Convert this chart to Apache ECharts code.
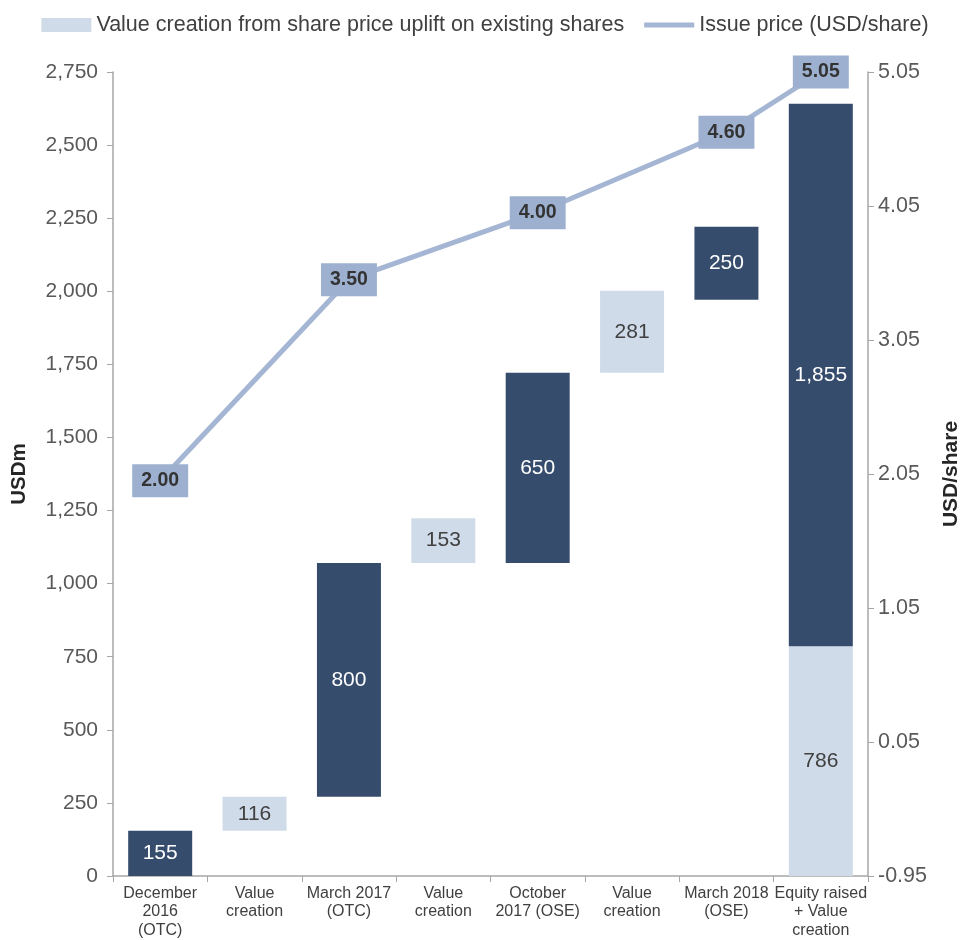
<!DOCTYPE html>
<html>
<head>
<meta charset="utf-8">
<script src="https://cdn.jsdelivr.net/npm/echarts@6/dist/echarts.min.js"></script>
<style>
html,body{margin:0;padding:0;background:#fff;}
#chart{width:970px;height:940px;}
</style>
</head>
<body>
<div id="chart"></div>
<script>
const categories = ["December\n2016\n(OTC)", "Value\ncreation", "March 2017\n(OTC)", "Value\ncreation", "October\n2017 (OSE)", "Value\ncreation", "March 2018\n(OSE)", "Equity raised\n+ Value\ncreation"];
const bases = [0, 155, 271, 1071, 1071, 1721, 1971, 0];
const valueCreation = [null, 116, null, 153, null, 281, null, 786];
const equityRaised = [155, null, 800, null, 650, null, 250, 1855];
const issuePrice = [2.00, null, 3.50, null, 4.00, null, 4.60, 5.05];
const rightTickLabels = ["-0.95", "0.05", "1.05", "2.05", "3.05", "4.05", "5.05"];

const FONT = '"Liberation Sans", Arial, sans-serif';
const fmt = v => (v == null ? '' : Number(v).toLocaleString('en-US'));
const chart = echarts.init(document.getElementById('chart'), null, {renderer: 'canvas'});

chart.setOption({
  animation: false,
  textStyle: {fontFamily: FONT},
  legend: {
    top: 9, left: 'center',
    itemWidth: 50, itemHeight: 14, itemGap: 20,
    textStyle: {fontSize: 21.5, color: '#404040', fontFamily: FONT},
    data: [
      {name: 'Value creation from share price uplift on existing shares', icon: 'rect'},
      {name: 'Issue price (USD/share)', icon: 'path://M0,0 L50,0 L50,5 L0,5 Z'}
    ]
  },
  grid: {left: 113, right: 95, top: 72, bottom: 64, containLabel: false},
  xAxis: {
    type: 'category',
    data: categories,
    axisLine: {lineStyle: {color: '#a6a6a6', width: 1.5}},
    axisTick: {show: true, length: 6, lineStyle: {color: '#a6a6a6'}},
    axisLabel: {fontSize: 16, lineHeight: 18.5, color: '#404040', margin: 8, interval: 0, fontFamily: FONT}
  },
  yAxis: [
    {
      type: 'value', min: 0, max: 2750, interval: 250, position: 'left',
      name: 'USDm', nameLocation: 'middle', nameGap: 83, nameRotate: 90,
      nameTextStyle: {fontSize: 20.5, fontWeight: 'bold', color: '#262626', fontFamily: FONT},
      axisLine: {show: true, lineStyle: {color: '#a6a6a6', width: 1.5}},
      axisTick: {show: true, length: 6, lineStyle: {color: '#a6a6a6'}},
      splitLine: {show: false},
      axisLabel: {fontSize: 21, color: '#595959', margin: 15, formatter: v => fmt(v), fontFamily: FONT}
    },
    {
      type: 'value', min: 0, max: 6, interval: 1, position: 'right',
      name: 'USD/share', nameLocation: 'middle', nameGap: 73, nameRotate: 90,
      nameTextStyle: {fontSize: 21, fontWeight: 'bold', color: '#262626', fontFamily: FONT},
      axisLine: {show: true, lineStyle: {color: '#a6a6a6', width: 1.5}},
      axisTick: {show: true, length: 6, lineStyle: {color: '#a6a6a6'}},
      splitLine: {show: false},
      axisLabel: {fontSize: 21.5, color: '#595959', margin: 10, formatter: (v) => rightTickLabels[Math.round(v)] || '', fontFamily: FONT}
    },
    {
      type: 'value', min: -0.95, max: 5.05, show: false, position: 'right'
    }
  ],
  series: [
    {
      name: 'base', type: 'bar', stack: 'w', barWidth: 64, silent: true,
      itemStyle: {color: 'rgba(0,0,0,0)'},
      data: bases
    },
    {
      name: 'Value creation from share price uplift on existing shares', type: 'bar', stack: 'w', barWidth: 64,
      itemStyle: {color: '#d0dbe9'},
      label: {show: true, position: 'inside', fontSize: 21, color: '#404040', formatter: p => fmt(p.value), fontFamily: FONT},
      data: valueCreation
    },
    {
      name: 'Equity raised', type: 'bar', stack: 'w', barWidth: 64,
      itemStyle: {color: '#364c6d'},
      label: {show: true, position: 'inside', fontSize: 21, color: '#ffffff', formatter: p => fmt(p.value), fontFamily: FONT},
      data: equityRaised
    },
    {
      name: 'Issue price (USD/share)', type: 'line', yAxisIndex: 2, connectNulls: true, z: 5,
      symbol: 'circle', symbolSize: 1,
      lineStyle: {color: '#a4b6d3', width: 5},
      itemStyle: {color: '#a4b6d3'},
      label: {
        show: true, position: 'inside', fontSize: 19.5, fontWeight: 'bold', color: '#333333',
        backgroundColor: '#9db0cf', padding: [7, 9, 6, 9], fontFamily: FONT,
        formatter: p => Number(p.value).toFixed(2)
      },
      data: issuePrice
    }
  ]
});
</script>
</body>
</html>
